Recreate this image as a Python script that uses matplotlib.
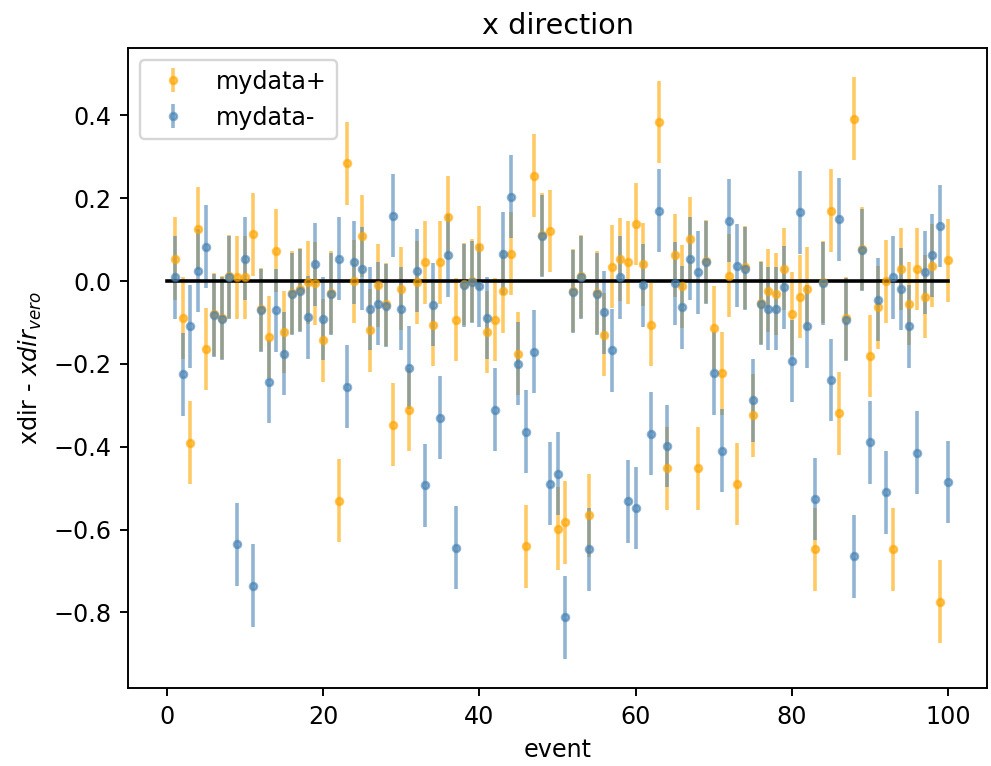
import numpy as np
import matplotlib
matplotlib.use("Agg")
from matplotlib import pyplot as plt

# event index
event = list(range(1, 101))

# xdir - xdir_vero, "+" sample
mydata_plus = [
    0.054, -0.089, -0.390, 0.126, -0.164, -0.080, -0.088, 0.012, 0.009, 0.009,
    0.113, -0.068, -0.135, 0.073, -0.123, -0.028, -0.020, -0.003, -0.005, -0.143,
    -0.028, -0.530, 0.284, 0.000, 0.109, -0.119, -0.010, -0.056, -0.347, -0.018,
    -0.311, -0.003, 0.045, -0.105, 0.045, 0.154, -0.093, -0.007, 0.001, 0.082,
    -0.123, -0.093, -0.025, 0.066, -0.175, -0.640, 0.254, 0.112, 0.121, -0.598,
    -0.582, -0.023, 0.012, -0.566, -0.028, -0.129, 0.035, 0.053, 0.045, 0.138,
    0.041, -0.105, 0.384, -0.452, 0.062, -0.013, 0.102, -0.452, 0.048, -0.113,
    -0.223, 0.013, -0.490, 0.033, -0.324, -0.052, -0.023, -0.031, 0.029, -0.079,
    -0.038, -0.018, -0.648, -0.002, 0.170, -0.319, -0.090, 0.392, 0.078, -0.181,
    -0.063, 0.000, -0.648, 0.029, -0.055, 0.029, -0.038, 0.037, -0.774, 0.050,
]

# xdir - xdir_vero, "-" sample
mydata_minus = [
    0.009, -0.225, -0.109, 0.025, 0.083, -0.083, -0.091, 0.009, -0.636, 0.054,
    -0.736, -0.071, -0.243, -0.071, -0.175, -0.031, -0.023, -0.087, 0.041, -0.091,
    -0.031, 0.054, -0.255, 0.045, 0.030, -0.067, -0.055, -0.059, 0.158, -0.067,
    -0.209, 0.025, -0.493, -0.057, -0.330, 0.062, -0.644, -0.010, -0.002, -0.011,
    -0.089, -0.311, 0.066, 0.204, -0.199, -0.364, -0.171, 0.109, -0.489, -0.465,
    -0.812, -0.026, 0.009, -0.648, -0.031, -0.075, -0.167, 0.009, -0.532, -0.548,
    -0.010, -0.369, 0.170, -0.398, -0.005, -0.063, 0.054, 0.021, 0.045, -0.223,
    -0.410, 0.146, 0.037, 0.030, -0.288, -0.055, -0.067, -0.067, -0.015, -0.193,
    0.166, -0.109, -0.526, -0.005, -0.239, 0.149, -0.093, -0.664, 0.075, -0.389,
    -0.045, -0.510, 0.009, -0.019, -0.109, -0.414, 0.021, 0.062, 0.133, -0.485,
]

err = 0.1
line_x = [0, 100]
line_y = [0, 0]

fig = plt.figure(figsize=(992 / 172, 766 / 172), dpi=172)
ax = fig.add_axes([0.129, 0.102, 0.866, 0.835])

ax.errorbar(event, mydata_plus, yerr=err, fmt='.', color='orange', alpha=0.6, label='mydata+')
ax.errorbar(event, mydata_minus, yerr=err, fmt='.', color='steelblue', alpha=0.6, label='mydata-')
ax.plot(line_x, line_y, color='black')

ax.set_title("x direction")
ax.set_xlabel("event")
ax.set_ylabel("xdir - $xdir_{vero}$")
ax.legend(loc='upper left')

fig.savefig("out.png", dpi=172)
